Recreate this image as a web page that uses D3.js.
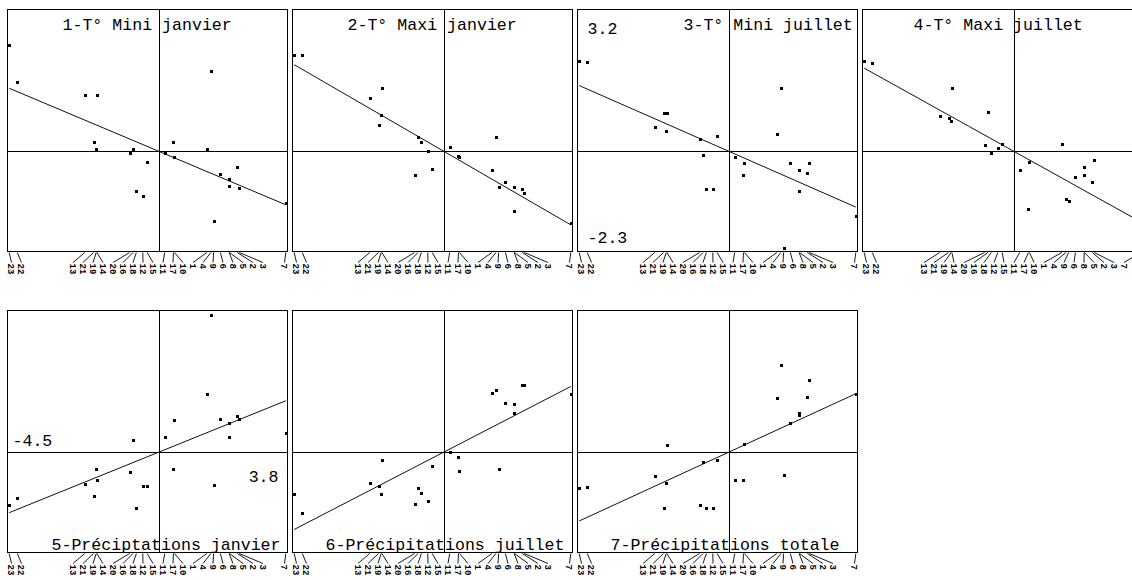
<!DOCTYPE html>
<html><head><meta charset="utf-8">
<script src="https://cdn.jsdelivr.net/npm/d3@7"></script>
<style>body{margin:0;background:#fff}svg{display:block}</style>
</head><body>
<svg id="c" width="1132" height="580"></svg>
<script>
// ---- data ----
const stationLabels = ["23","22","13","21","19","14","20","16","18","12","15","11","17","10","1","4","9","6","8","5","2","3","7"];
const scoreX = [-4.43,-4.19,-2.19,-1.93,-1.85,-1.83,-0.86,-0.76,-0.66,-0.47,-0.34,0.18,0.44,0.47,1.43,1.55,1.63,1.83,2.09,2.10,2.33,2.39,3.77];
const titles = ["1-T° Mini janvier","2-T° Maxi janvier","3-T° Mini juillet","4-T° Maxi juillet","5-Préciptations janvier","6-Précipitations juillet","7-Précipitations totale"];
const miniJanvier = [2.43,1.58,1.29,0.20,0.05,1.29,-0.05,0.05,-0.92,-1.03,-0.25,-0.05,0.20,-0.14,0.05,1.83,-1.61,-0.52,-0.63,-0.80,-0.36,-0.85,-1.19];
const maxiJanvier = [2.20,2.20,1.23,0.59,0.82,1.45,-0.55,0.33,0.20,0.01,-0.40,0.09,-0.11,-0.13,-0.43,0.32,-0.81,-0.70,-0.81,-1.36,-0.86,-0.96,-1.64];
const miniJuillet = [2.08,2.05,0.55,0.87,0.46,0.87,0.27,-0.08,-0.86,-0.86,0.34,-0.14,-0.55,-0.28,0.39,1.45,-2.22,-0.28,-0.43,-0.92,-0.50,-0.28,-1.48];
const maxiJuillet = [2.08,2.02,0.81,0.76,0.70,1.45,0.14,0.91,-0.04,0.08,0.17,-0.43,-1.33,-0.25,0.17,-1.10,-1.14,-0.58,-0.55,-0.36,-0.70,-0.20,-1.60];
const precJanvier = [-1.20,-1.05,-0.73,-1.01,-0.38,-0.63,-0.45,0.29,-1.27,-0.77,-0.77,0.35,-0.38,0.73,1.33,3.14,-0.76,0.76,0.67,0.36,0.83,0.77,0.44];
const precJuillet = [-0.96,-1.40,-0.70,-0.77,-0.96,-0.17,-1.18,-0.83,-0.93,-1.13,-0.32,0.00,-0.12,-0.42,1.36,1.42,-0.39,1.14,1.11,0.89,1.54,1.54,1.33];
const precTotale = [-0.83,-0.80,-0.55,-1.27,-0.70,0.16,-1.20,-0.23,-1.27,-1.27,-0.19,-0.64,-0.64,0.19,1.25,1.99,-0.52,0.66,0.89,0.85,1.27,1.65,1.33];
const slopes = [-0.326,-0.448,-0.34,-0.43,0.313,0.40,0.356];
const xRangeText = ["-4.5","3.8"];
const yRangeText = ["3.2","-2.3"];

// ---- layout ----
const series = [miniJanvier,maxiJanvier,miniJuillet,maxiJuillet,precJanvier,precJuillet,precTotale];
const W = 280, H = 242, VIEW_W = 1132;
const colLeft = c => 7.5 + 285*c;
const rowTop = [9.5, 310.5];
const titleStart = [55,55,106,51,44,33,33];
const FONT = "'Liberation Mono','Courier New',monospace";
const svg = d3.select("#c");

series.forEach((vals, k) => {
  const row = k < 4 ? 0 : 1, col = k < 4 ? k : k - 4;
  const left = colLeft(col), top = rowTop[row];
  const x = d3.scaleLinear().domain([-4.48, 3.82]).range([left, left + W]);
  const y = d3.scaleLinear().domain([-2.3, 3.25]).range([top + H, top]);
  const g = svg.append("g");

  g.append("rect").attr("x", left).attr("y", top).attr("width", W).attr("height", H)
    .attr("fill", "none").attr("stroke", "#000").attr("stroke-width", 1);
  g.append("line").attr("x1", Math.round(x(0))+0.5).attr("x2", Math.round(x(0))+0.5)
    .attr("y1", top).attr("y2", top + H).attr("stroke", "#000");
  g.append("line").attr("x1", left).attr("x2", left + W)
    .attr("y1", Math.round(y(0))+0.5).attr("y2", Math.round(y(0))+0.5).attr("stroke", "#000");

  // regression line
  const ext = d3.extent(scoreX);
  g.append("path").datum(ext)
    .attr("d", d3.line().x(d => x(d)).y(d => y(slopes[k]*d)))
    .attr("stroke", "#111").attr("stroke-width", 1).attr("fill", "none");

  // points
  g.selectAll("rect.pt").data(scoreX).join("rect").attr("class", "pt")
    .attr("x", (d) => Math.round(x(d)) - 1).attr("y", (d, i) => Math.round(y(vals[i])) - 1)
    .attr("width", 3).attr("height", 3).attr("fill", "#000");

  // title
  g.append("text").text(titles[k])
    .attr("x", left + titleStart[k]).attr("y", row === 0 ? top + 20 : top + 239)
    .attr("font-family", FONT).attr("font-size", 16.6).attr("fill", "#000");

  // leader lines + rotated labels
  const bottom = top + H;
  const order = d3.range(scoreX.length).sort((a, b) => scoreX[a] - scoreX[b]);
  const gap = 10;
  const rightBound = Math.min(left + W - 3, VIEW_W - 8);
  let clusters = order.map(i => ({ids: [i]}));
  const place = c => { const n = c.ids.length; const mean = d3.mean(c.ids, i => x(scoreX[i]));
    c.start = Math.max(left + 4, Math.min(rightBound - (n-1)*gap, mean - (n-1)*gap/2)); };
  clusters.forEach(place);
  let merged = true;
  while (merged) {
    merged = false;
    for (let j = 0; j < clusters.length - 1; j++) {
      const a = clusters[j], b = clusters[j+1];
      if (a.start + (a.ids.length-1)*gap + gap > b.start) {
        a.ids = a.ids.concat(b.ids); place(a); clusters.splice(j+1, 1); merged = true; break;
      }
    }
  }
  const lx = {};
  clusters.forEach(c => c.ids.forEach((i, n) => lx[i] = c.start + n*gap));
  order.forEach(i => {
    g.append("line").attr("x1", x(scoreX[i])).attr("y1", bottom + 1)
      .attr("x2", lx[i]).attr("y2", bottom + 11).attr("stroke", "#000").attr("stroke-width", 0.9);
    g.append("text").text(stationLabels[i])
      .attr("transform", `translate(${lx[i]},${bottom + 12}) rotate(90)`)
      .attr("dy", "0.35em").attr("font-family", FONT).attr("font-size", 9)
      .attr("font-weight", "bold").attr("fill", "#000");
  });
});

// range labels
const p3 = {left: colLeft(2), top: rowTop[0]};
svg.append("text").text(yRangeText[0]).attr("x", p3.left + 10).attr("y", p3.top + 24)
  .attr("font-family", FONT).attr("font-size", 16.6);
svg.append("text").text(yRangeText[1]).attr("x", p3.left + 10).attr("y", p3.top + 233)
  .attr("font-family", FONT).attr("font-size", 16.6);
const p5 = {left: colLeft(0), top: rowTop[1]};
svg.append("text").text(xRangeText[0]).attr("x", p5.left + 5).attr("y", p5.top + 135)
  .attr("font-family", FONT).attr("font-size", 16.6);
svg.append("text").text(xRangeText[1]).attr("x", p5.left + 271).attr("y", p5.top + 171)
  .attr("text-anchor", "end").attr("font-family", FONT).attr("font-size", 16.6);
</script>
</body></html>
